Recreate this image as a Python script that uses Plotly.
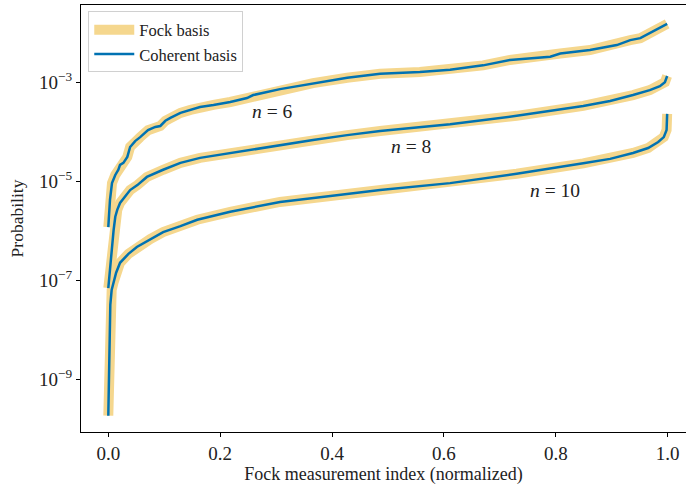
import numpy as np
import plotly.graph_objects as go

# Sorted outcome probabilities, x = normalized index
x6 = [0.0, 0.003, 0.0066, 0.0125, 0.018, 0.021, 0.027, 0.034, 0.039, 0.048, 0.057, 0.071, 0.084,
      0.093, 0.102, 0.111, 0.129, 0.147, 0.164, 0.188, 0.218, 0.248, 0.259, 0.307, 0.366, 0.427,
      0.486, 0.557, 0.611, 0.670, 0.718, 0.790, 0.808, 0.861, 0.909, 0.933, 0.951, 0.968, 0.986, 0.999]
logp6 = [-5.92, -5.37, -5.03, -4.865, -4.76, -4.66, -4.62, -4.50, -4.30, -4.18, -4.10, -3.96, -3.895,
         -3.875, -3.77, -3.71, -3.61, -3.55, -3.49, -3.45, -3.39, -3.31, -3.25, -3.13, -3.01, -2.90,
         -2.82, -2.785, -2.74, -2.65, -2.54, -2.475, -2.41, -2.34, -2.24, -2.14, -2.10, -2.00, -1.895, -1.81]

x8 = [0.0, 0.0036, 0.0066, 0.0095, 0.0125, 0.016, 0.021, 0.030, 0.039, 0.052, 0.069, 0.098, 0.129,
      0.164, 0.218, 0.307, 0.366, 0.427, 0.486, 0.611, 0.730, 0.849, 0.897, 0.938, 0.968, 0.986, 0.995, 0.999]
logp8 = [-7.15, -6.68, -6.38, -5.98, -5.71, -5.57, -5.43, -5.29, -5.17, -5.07, -4.905, -4.76, -4.62,
         -4.52, -4.42, -4.26, -4.16, -4.06, -3.975, -3.84, -3.67, -3.47, -3.37, -3.25, -3.15, -3.07, -2.99, -2.865]

x10 = [0.0, 0.001, 0.002, 0.0036, 0.006, 0.0095, 0.014, 0.021, 0.036, 0.051, 0.075, 0.098, 0.129,
       0.159, 0.218, 0.307, 0.397, 0.486, 0.611, 0.730, 0.849, 0.897, 0.938, 0.965, 0.983, 0.993, 0.998, 0.999]
logp10 = [-9.73, -9.0, -8.2, -7.49, -7.19, -7.03, -6.84, -6.64, -6.46, -6.32, -6.16, -6.02, -5.90,
          -5.77, -5.61, -5.41, -5.29, -5.17, -5.03, -4.84, -4.63, -4.54, -4.42, -4.32, -4.20, -4.10, -3.955, -3.63]

series = [(x6, logp6, "6"), (x8, logp8, "8"), (x10, logp10, "10")]
label_pos = {"6": (0.293, -3.59), "8": (0.541, -4.28), "10": (0.799, -5.17)}

ytick_exp = [-9, -7, -5, -3]
xtick_vals = [0.0, 0.2, 0.4, 0.6, 0.8, 1.0]

FOCK = "rgb(245,215,142)"
COH = "#0072B2"
FONT = "Liberation Serif"

fig = go.Figure()
for i, (xs, lp, n) in enumerate(series):
    fig.add_trace(go.Scatter(x=xs, y=[10 ** v for v in lp], mode="lines",
                             line=dict(color=FOCK, width=10), name="Fock basis",
                             legendgroup="fock", showlegend=(i == 0)))
for i, (xs, lp, n) in enumerate(series):
    fig.add_trace(go.Scatter(x=xs, y=[10 ** v for v in lp], mode="lines",
                             line=dict(color=COH, width=2.5), name="Coherent basis",
                             legendgroup="coh", showlegend=(i == 0)))

for n, (ax, ay) in label_pos.items():
    fig.add_annotation(x=ax, y=ay, text=f"<i>n</i> = {n}", showarrow=False,
                       font=dict(family=FONT, size=19.5, color="#222"))

fig.update_layout(
    width=686, height=485,
    margin=dict(l=81, r=0, t=5, b=53),
    paper_bgcolor="white", plot_bgcolor="white",
    font=dict(family=FONT, color="#222"),
    legend=dict(x=0.012, y=0.985, xanchor="left", yanchor="top", itemwidth=40,
                bgcolor="rgba(255,255,255,0.9)", bordercolor="#d0d0d0", borderwidth=1,
                font=dict(family=FONT, size=16.5, color="#222"), tracegroupgap=0),
    xaxis=dict(range=[-0.0488, 1.0327], tickvals=xtick_vals, automargin=False,
               ticktext=[f"{v:.1f}" for v in xtick_vals],
               showgrid=False, zeroline=False, showline=True, linecolor="black", linewidth=1,
               mirror=True, ticks="outside", ticklen=4, tickcolor="black",
               tickfont=dict(family=FONT, size=19, color="#222"),
               title=dict(text="Fock measurement index (normalized)", standoff=0,
                          font=dict(family=FONT, size=18, color="#222"))),
    yaxis=dict(type="log", range=[-10.06, -1.43], automargin=False,
               tickvals=[10 ** e for e in ytick_exp],
               ticktext=[f"10<sup>\u2212{-e}</sup>" for e in ytick_exp],
               showgrid=False, zeroline=False, showline=True, linecolor="black", linewidth=1,
               ticks="outside", ticklen=4, tickcolor="black",
               tickfont=dict(family=FONT, size=19, color="#222"),
               title=dict(text="Probability", standoff=10,
                          font=dict(family=FONT, size=17.5, color="#222"))),
)

fig.write_html("out.html", config={"displayModeBar": False},
               post_script="document.body.style.margin='0';")
